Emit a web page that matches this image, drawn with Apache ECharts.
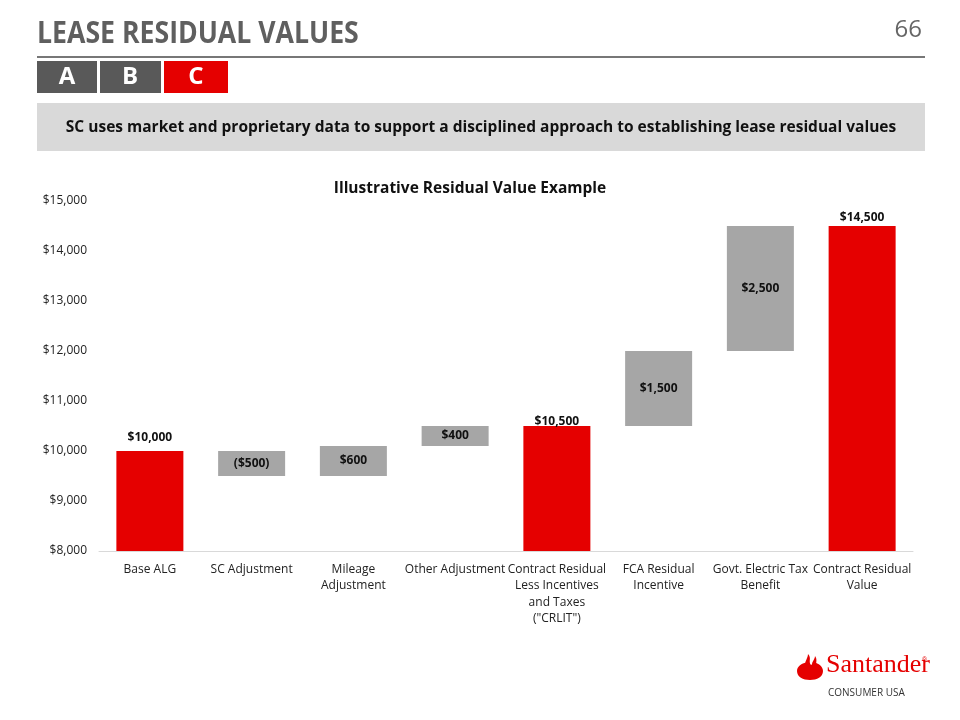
<!DOCTYPE html>
<html><head><meta charset="utf-8">
<script src="https://cdn.jsdelivr.net/npm/echarts@6/dist/echarts.min.js"></script>
<style>html,body{margin:0;padding:0;background:#fff}#c{width:960px;height:720px}</style>
</head><body><div id="c"></div>
<script>
const categories = ['Base ALG','SC Adjustment','Mileage\nAdjustment','Other Adjustment','Contract Residual\nLess Incentives\nand Taxes\n("CRLIT")','FCA Residual\nIncentive','Govt. Electric Tax\nBenefit','Contract Residual\nValue'];
const totals = [10000, null, null, null, 10500, null, null, 14500];
const adjustments = [null, -500, 600, 400, null, 1500, 2500, null];
const yTicks = {min: 8000, max: 15000, interval: 1000};

const RED = '#E50000', GRAY = '#A6A6A6';
const fmt = v => '$' + Math.abs(v).toLocaleString('en-US');
const fmtSigned = v => v < 0 ? '(' + fmt(v) + ')' : fmt(v);

// build waterfall base/height from data
let level = 0;
const baseData = [], deltaData = [], totalData = [];
categories.forEach((c, i) => {
  if (totals[i] != null) {
    level = totals[i];
    baseData.push('-'); deltaData.push('-'); totalData.push(totals[i]);
  } else {
    const d = adjustments[i];
    const lo = d < 0 ? level + d : level;
    baseData.push(lo);
    deltaData.push({value: Math.abs(d), signed: d});
    totalData.push('-');
    level += d;
  }
});
const totalLabelDist = [7, 0, 0, 0, -2, 0, 0, 2];
const totalSeriesData = totalData.map((v, i) => v === '-' ? '-' : {value: v, label: {distance: totalLabelDist[i]}});

const flameSvg = '<svg xmlns="http://www.w3.org/2000/svg" width="28" height="28" viewBox="0 0 28 28">' +
  '<path fill="#E50000" d="M1,18 C1,13 6,10.5 10,9.5 C10,13 17,13.5 17,9 C22,10 27,13 27,18 C27,24 21,27 14,27 C7,27 1,24 1,18 Z"/>' +
  '<path fill="#E50000" d="M11,16 C6,11 12,6 12,1 C16,5 12,8.5 15,12 C16,14 14,16 11,16 Z"/>' +
  '<path fill="#E50000" d="M17,14 C14,10 19,7 19,3 C22,7 19,10 21,13 Z"/></svg>';
const flameUri = 'data:image/svg+xml;charset=utf-8,' + encodeURIComponent(flameSvg);

const chart = echarts.init(document.getElementById('c'));
const FONT = 'Open Sans';
chart.setOption({
  animation: false,
  textStyle: {fontFamily: FONT},
  title: {text: 'Illustrative Residual Value Example', left: 465, top: 176, textAlign: 'center',
    textStyle: {fontSize: 15.5, fontWeight: 'bold', color: '#111', fontFamily: FONT}},
  grid: {left: 99, right: 47, top: 201, bottom: 169, containLabel: false},
  xAxis: {type: 'category', data: categories,
    axisLine: {lineStyle: {color: '#D9D9D9'}}, axisTick: {show: false},
    axisLabel: {color: '#222', fontSize: 12, lineHeight: 16.5, margin: 10, interval: 0, fontFamily: FONT}},
  yAxis: {type: 'value', min: yTicks.min, max: yTicks.max, interval: yTicks.interval,
    splitLine: {show: false}, axisLine: {show: false}, axisTick: {show: false},
    axisLabel: {color: '#222', fontSize: 12, margin: 12, fontFamily: FONT, formatter: v => fmt(v)}},
  series: [
    {type: 'bar', stack: 'w', data: baseData, itemStyle: {color: 'transparent'}, barWidth: 67, silent: true},
    {type: 'bar', stack: 'w', data: deltaData, itemStyle: {color: GRAY}, barWidth: 67,
      label: {show: true, position: 'inside', color: '#111', fontWeight: 'bold', fontSize: 12, fontFamily: FONT,
        formatter: p => fmtSigned(p.data.signed)}},
    {type: 'bar', data: totalSeriesData, itemStyle: {color: RED}, barWidth: 67, barGap: '-100%',
      label: {show: true, position: 'top', color: '#111', fontWeight: 'bold', fontSize: 12, fontFamily: FONT,
        formatter: p => fmt(p.value)}}
  ],
  graphic: [
    {type: 'text', x: 37, y: 19, scaleX: 0.86, style: {text: 'LEASE RESIDUAL VALUES', fill: '#5F5F5F', font: 'bold 31px "Open Sans"'}},
    {type: 'text', x: 922, y: 18, style: {text: '66', fill: '#666', font: '24px "Open Sans"', align: 'right'}},
    {type: 'line', shape: {x1: 37, y1: 57, x2: 925, y2: 57}, style: {stroke: '#777', lineWidth: 2}},
    {type: 'rect', shape: {x: 37, y: 61, width: 60, height: 32}, style: {fill: '#595959'}},
    {type: 'rect', shape: {x: 100, y: 61, width: 61, height: 32}, style: {fill: '#595959'}},
    {type: 'rect', shape: {x: 164, y: 61, width: 64, height: 32}, style: {fill: '#E50000'}},
    {type: 'text', x: 67, y: 77, style: {text: 'A', fill: '#fff', font: 'bold 24px "Open Sans"', align: 'center', verticalAlign: 'middle'}},
    {type: 'text', x: 130, y: 77, style: {text: 'B', fill: '#fff', font: 'bold 24px "Open Sans"', align: 'center', verticalAlign: 'middle'}},
    {type: 'text', x: 196, y: 77, style: {text: 'C', fill: '#fff', font: 'bold 24px "Open Sans"', align: 'center', verticalAlign: 'middle'}},
    {type: 'rect', shape: {x: 37, y: 103, width: 888, height: 48}, style: {fill: '#D9D9D9'}},
    {type: 'text', x: 481, y: 128, style: {text: 'SC uses market and proprietary data to support a disciplined approach to establishing lease residual values', fill: '#111', font: 'bold 15.5px "Open Sans"', align: 'center', verticalAlign: 'middle'}},
    {type: 'image', x: 796, y: 653, style: {image: flameUri, width: 28, height: 28}},
    {type: 'text', x: 826, y: 652, style: {text: 'Santander', fill: '#E50000', font: '26px "Liberation Serif", serif'}},
    {type: 'text', x: 922, y: 657, style: {text: '®', fill: '#E50000', font: '7px sans-serif'}},
    {type: 'text', x: 828, y: 688, style: {text: 'CONSUMER USA', fill: '#333', font: '10px "Open Sans"'}}
  ]
});
</script></body></html>
